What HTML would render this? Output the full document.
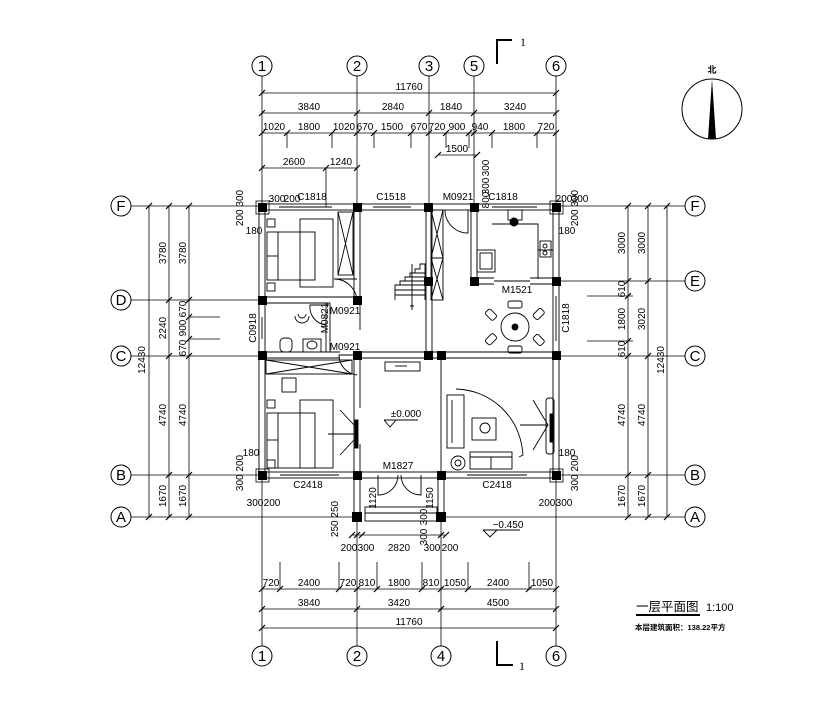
<!DOCTYPE html>
<html><head><meta charset="utf-8"><style>
html,body{margin:0;padding:0;background:#fff;width:837px;height:703px;overflow:hidden}
svg text{font-family:"Liberation Sans","Noto Sans CJK SC",sans-serif;fill:#000}
</style></head><body>
<svg width="837" height="703" viewBox="0 0 837 703" xmlns="http://www.w3.org/2000/svg">
<g stroke="#000" stroke-width="0.8" fill="none">
<line x1="262" y1="76" x2="262" y2="207"/><line x1="357" y1="76" x2="357" y2="207"/><line x1="429" y1="76" x2="429" y2="207"/><line x1="474" y1="76" x2="474" y2="207"/><line x1="556" y1="76" x2="556" y2="207"/>
<line x1="262" y1="475" x2="262" y2="646"/><line x1="357" y1="517" x2="357" y2="646"/><line x1="441" y1="517" x2="441" y2="646"/><line x1="556" y1="475" x2="556" y2="646"/>
<line x1="131" y1="206" x2="262" y2="206"/><line x1="131" y1="300" x2="262" y2="300"/><line x1="131" y1="356" x2="262" y2="356"/><line x1="131" y1="475" x2="262" y2="475"/><line x1="131" y1="517" x2="357" y2="517"/>
<line x1="556" y1="206" x2="685" y2="206"/><line x1="556" y1="281" x2="685" y2="281"/><line x1="556" y1="356" x2="685" y2="356"/><line x1="556" y1="475" x2="685" y2="475"/><line x1="441" y1="517" x2="685" y2="517"/>
<line x1="262" y1="93" x2="556" y2="93"/><line x1="262" y1="113" x2="556" y2="113"/><line x1="262" y1="133" x2="556" y2="133"/>
<line x1="287" y1="133" x2="287" y2="148"/><line x1="332" y1="133" x2="332" y2="148"/><line x1="374" y1="133" x2="374" y2="148"/><line x1="411" y1="133" x2="411" y2="148"/><line x1="446" y1="133" x2="446" y2="148"/><line x1="469" y1="133" x2="469" y2="148"/><line x1="492" y1="133" x2="492" y2="148"/><line x1="537" y1="133" x2="537" y2="148"/>
<line x1="262" y1="168" x2="357" y2="168"/><line x1="326" y1="168" x2="326" y2="207"/>
<line x1="438" y1="155" x2="477" y2="155"/>
<line x1="262" y1="589" x2="556" y2="589"/><line x1="262" y1="609" x2="556" y2="609"/><line x1="262" y1="628" x2="556" y2="628"/>
<line x1="280" y1="562" x2="280" y2="589"/><line x1="339" y1="562" x2="339" y2="589"/><line x1="377" y1="562" x2="377" y2="589"/><line x1="422" y1="562" x2="422" y2="589"/><line x1="468" y1="562" x2="468" y2="589"/><line x1="529" y1="562" x2="529" y2="589"/>
<line x1="352" y1="535" x2="446" y2="535"/>
<line x1="149" y1="206" x2="149" y2="517"/><line x1="169" y1="206" x2="169" y2="517"/><line x1="189" y1="206" x2="189" y2="517"/>
<line x1="189" y1="317" x2="220" y2="317"/><line x1="189" y1="339" x2="220" y2="339"/>
<line x1="628" y1="206" x2="628" y2="517"/><line x1="648" y1="206" x2="648" y2="517"/><line x1="667" y1="206" x2="667" y2="517"/>
<line x1="587" y1="296" x2="633" y2="296"/><line x1="587" y1="341" x2="633" y2="341"/>
</g>
<g stroke="#000" stroke-width="1.2">
<path d="M259 96l6-6M259 116l6-6M259 136l6-6M354 116l6-6M354 136l6-6M426 116l6-6M426 136l6-6M471 116l6-6M471 136l6-6M553 96l6-6M553 116l6-6M553 136l6-6M284 136l6-6M329 136l6-6M371 136l6-6M408 136l6-6M443 136l6-6M466 136l6-6M489 136l6-6M534 136l6-6M259 171l6-6M323 171l6-6M354 171l6-6M435 158l6-6M474 158l6-6"/>
<path d="M259 592l6-6M277 592l6-6M336 592l6-6M354 592l6-6M374 592l6-6M419 592l6-6M438 592l6-6M465 592l6-6M526 592l6-6M553 592l6-6M259 612l6-6M354 612l6-6M438 612l6-6M553 612l6-6M259 631l6-6M553 631l6-6M349 538l6-6M354 538l6-6M359 538l6-6M438 538l6-6M443 538l6-6"/>
<path d="M146 209l6-6M146 520l6-6M166 209l6-6M166 303l6-6M166 359l6-6M166 478l6-6M166 520l6-6M186 209l6-6M186 303l6-6M186 320l6-6M186 342l6-6M186 359l6-6M186 478l6-6M186 520l6-6"/>
<path d="M625 209l6-6M625 284l6-6M625 299l6-6M625 344l6-6M625 359l6-6M625 478l6-6M625 520l6-6M645 209l6-6M645 284l6-6M645 359l6-6M645 478l6-6M645 520l6-6M664 209l6-6M664 520l6-6"/>
</g>
<g stroke="#000" stroke-width="1" fill="#fff">
<circle cx="262" cy="66" r="10"/><circle cx="357" cy="66" r="10"/><circle cx="429" cy="66" r="10"/><circle cx="474" cy="66" r="10"/><circle cx="556" cy="66" r="10"/>
<circle cx="262" cy="656" r="10"/><circle cx="357" cy="656" r="10"/><circle cx="441" cy="656" r="10"/><circle cx="556" cy="656" r="10"/>
<circle cx="121" cy="206" r="10"/><circle cx="121" cy="300" r="10"/><circle cx="121" cy="356" r="10"/><circle cx="121" cy="475" r="10"/><circle cx="121" cy="517" r="10"/>
<circle cx="695" cy="206" r="10"/><circle cx="695" cy="281" r="10"/><circle cx="695" cy="356" r="10"/><circle cx="695" cy="475" r="10"/><circle cx="695" cy="517" r="10"/>
</g>
<g font-size="15" text-anchor="middle" style="font-family:'Liberation Serif',serif">
<text x="262" y="71">1</text><text x="357" y="71">2</text><text x="429" y="71">3</text><text x="474" y="71">5</text><text x="556" y="71">6</text>
<text x="262" y="661">1</text><text x="357" y="661">2</text><text x="441" y="661">4</text><text x="556" y="661">6</text>
<text x="121" y="211">F</text><text x="121" y="305">D</text><text x="121" y="361">C</text><text x="121" y="480">B</text><text x="121" y="522">A</text>
<text x="695" y="211">F</text><text x="695" y="286">E</text><text x="695" y="361">C</text><text x="695" y="480">B</text><text x="695" y="522">A</text>
</g>
<!-- walls -->
<g stroke="#000" stroke-width="0.9" fill="none">
<rect x="259" y="204" width="300" height="274"/>
<rect x="265" y="210" width="288" height="262"/>
</g>
<g font-size="10" text-anchor="middle">
<text x="409" y="90">11760</text>
<text x="309" y="110">3840</text><text x="393" y="110">2840</text><text x="451" y="110">1840</text><text x="515" y="110">3240</text>
<text x="274" y="130">1020</text><text x="309" y="130">1800</text><text x="344" y="130">1020</text><text x="365" y="130">670</text><text x="392" y="130">1500</text><text x="419" y="130">670</text><text x="437" y="130">720</text><text x="457" y="130">900</text><text x="480" y="130">940</text><text x="514" y="130">1800</text><text x="546" y="130">720</text>
<text x="294" y="165">2600</text><text x="341" y="165">1240</text><text x="457" y="152">1500</text>
<text x="271" y="586">720</text><text x="309" y="586">2400</text><text x="348" y="586">720</text><text x="367" y="586">810</text><text x="399" y="586">1800</text><text x="431" y="586">810</text><text x="455" y="586">1050</text><text x="498" y="586">2400</text><text x="542" y="586">1050</text>
<text x="309" y="606">3840</text><text x="399" y="606">3420</text><text x="498" y="606">4500</text>
<text x="409" y="625">11760</text>
<text x="349" y="551">200</text><text x="366" y="551">300</text><text x="399" y="551">2820</text><text x="432" y="551">300</text><text x="450" y="551">200</text>
<text x="277" y="202">300</text><text x="292" y="202">200</text><text x="564" y="202">200</text><text x="580" y="202">300</text>
<text x="254" y="234">180</text><text x="567" y="234">180</text><text x="251" y="456">180</text><text x="567" y="456">180</text>
<text x="255" y="506">300</text><text x="272" y="506">200</text><text x="547" y="506">200</text><text x="564" y="506">300</text>
<text x="308" y="488">C2418</text><text x="497" y="488">C2418</text>
<text x="398" y="469">M1827</text>
<text x="312" y="200">C1818</text><text x="391" y="200">C1518</text><text x="458" y="200">M0921</text><text x="503" y="200">C1818</text>
<text x="517" y="293">M1521</text>
<text x="345" y="314">M0921</text><text x="345" y="350">M0921</text>
<text x="406" y="417">±0.000</text><text x="508" y="528">−0.450</text>
</g>
<g font-size="10" text-anchor="middle">
<text transform="translate(145,360) rotate(-90)">12430</text>
<text transform="translate(166,253) rotate(-90)">3780</text><text transform="translate(166,328) rotate(-90)">2240</text><text transform="translate(166,415) rotate(-90)">4740</text><text transform="translate(166,496) rotate(-90)">1670</text>
<text transform="translate(186,253) rotate(-90)">3780</text><text transform="translate(186,309) rotate(-90)">670</text><text transform="translate(186,328) rotate(-90)">900</text><text transform="translate(186,348) rotate(-90)">670</text><text transform="translate(186,415) rotate(-90)">4740</text><text transform="translate(186,496) rotate(-90)">1670</text>
<text transform="translate(625,243) rotate(-90)">3000</text><text transform="translate(625,289) rotate(-90)">610</text><text transform="translate(625,319) rotate(-90)">1800</text><text transform="translate(625,349) rotate(-90)">610</text><text transform="translate(625,415) rotate(-90)">4740</text><text transform="translate(625,496) rotate(-90)">1670</text>
<text transform="translate(645,243) rotate(-90)">3000</text><text transform="translate(645,319) rotate(-90)">3020</text><text transform="translate(645,415) rotate(-90)">4740</text><text transform="translate(645,496) rotate(-90)">1670</text>
<text transform="translate(664,360) rotate(-90)">12430</text>
<text transform="translate(256,328) rotate(-90)">C0918</text><text transform="translate(569,318) rotate(-90)">C1818</text>
<text transform="translate(328,318) rotate(-90)">M0821</text>
<text transform="translate(243,208) rotate(-90)">200 300</text><text transform="translate(578,208) rotate(-90)">200 300</text>
<text transform="translate(243,473) rotate(-90)">300 200</text><text transform="translate(578,473) rotate(-90)">300 200</text>
<text transform="translate(376,498) rotate(-90)">1120</text><text transform="translate(433,498) rotate(-90)">1150</text>
<text transform="translate(338,519) rotate(-90)">250 250</text>
<text transform="translate(427,517) rotate(-90)">300</text><text transform="translate(427,537) rotate(-90)">300</text>
<text transform="translate(489,168) rotate(-90)">300</text><text transform="translate(489,186) rotate(-90)">300</text><text transform="translate(489,200) rotate(-90)">800</text>
</g>
<g stroke="#000" stroke-width="0.9" fill="none">
<line x1="279" y1="207" x2="332" y2="207"/><line x1="373" y1="207" x2="411" y2="207"/><line x1="492" y1="207" x2="537" y2="207"/>
<line x1="280" y1="475" x2="339" y2="475"/><line x1="467" y1="475" x2="527" y2="475"/>
<line x1="262" y1="317" x2="262" y2="339"/><line x1="556" y1="296" x2="556" y2="341"/>
<path d="M354 210V298M360 210V330M354 358V472M360 358V408M360 444V472"/>
<path d="M426 210V352M432 210V352"/>
<path d="M471 210V278M477 210V278M471 210H477"/>
<path d="M265 297H354M265 303H330M265 352H340M265 358H340M360 352H556M360 358H556"/>
<path d="M477 278H494M477 284H494M530 278H553M530 284H553M494 281H530"/>
<path d="M441 358V472"/>
<path d="M326 303V352M330 303V352"/>
<path d="M354 478V514M360 478V514M438 478V514M444 478V514"/>
<rect x="365" y="507" width="72" height="6"/><rect x="365" y="513" width="72" height="8"/>
<path d="M378 475V495A20 20 0 0 0 398 475M421 475V495A20 20 0 0 1 401 475"/>
<path d="M468 210V233A23 23 0 0 1 445 210"/>
<path d="M357 279H334A23 23 0 0 1 357 303"/>
<path d="M357 355H339A20 20 0 0 0 357 375"/>
<path d="M329 305H310A18 18 0 0 0 326 325"/>
<rect x="338" y="212" width="15" height="63"/><path d="M338 212L353 275M353 212L338 275"/>
<rect x="431" y="210" width="12" height="48"/><path d="M431 210L443 258M443 210L431 258"/>
<rect x="431" y="258" width="12" height="42"/><path d="M431 258L443 300M443 258L431 300"/>
<rect x="266" y="360" width="86" height="14"/><path d="M266 360L352 374M352 360L266 374"/>
<rect x="300" y="219" width="33" height="68"/>
<rect x="267" y="232" width="48" height="48" fill="#fff"/><line x1="278" y1="232" x2="278" y2="280"/><line x1="267" y1="256" x2="278" y2="256"/><line x1="300" y1="232" x2="300" y2="280"/>
<rect x="267" y="219" width="8" height="8"/><rect x="267" y="283" width="8" height="8"/>
<rect x="300" y="400" width="33" height="68"/>
<rect x="267" y="413" width="48" height="55" fill="#fff"/><line x1="278" y1="413" x2="278" y2="468"/><line x1="267" y1="440" x2="278" y2="440"/><line x1="300" y1="413" x2="300" y2="468"/>
<rect x="267" y="400" width="8" height="8"/><rect x="267" y="460" width="8" height="8"/>
<rect x="282" y="378" width="14" height="14"/>
<path d="M340 410L354 425M340 455L354 440M328 434H354"/>
<rect x="355" y="420" width="3" height="28" fill="#000"/>
<rect x="280" y="338" width="12" height="14" rx="4"/><rect x="303" y="339" width="18" height="13"/><ellipse cx="312" cy="345" rx="5" ry="4"/>
<path d="M298 314a4 4 0 0 0 8 0M295 316a7 7 0 0 0 14 0"/>
<path d="M395 300V288L395 285H400V281H405V277H410V273H415V269H420V264H425V300M395 290H425M395 295H425M395 285H425M400 281H425M405 277H425M410 273H425"/><path d="M412 264V310M410 306H414"/>
<rect x="385" y="362" width="35" height="9"/><path d="M395 366h12"/>
<path d="M492 224H538V279M538 250H553"/><rect x="477" y="250" width="18" height="22"/><rect x="480" y="253" width="12" height="16"/>
<rect x="508" y="210" width="14" height="10"/><circle cx="514" cy="222" r="4" fill="#000"/>
<rect x="540" y="241" width="11" height="16"/><circle cx="545" cy="246" r="2"/><circle cx="545" cy="253" r="2"/>
<circle cx="515" cy="327" r="14"/><circle cx="515" cy="327" r="3" fill="#000"/>
<rect x="508" y="301" width="14" height="7" rx="2"/><rect x="508" y="346" width="14" height="7" rx="2"/>
<rect x="486" y="311" width="11" height="7" rx="2" transform="rotate(45 491 314)"/><rect x="533" y="311" width="11" height="7" rx="2" transform="rotate(-45 538 314)"/>
<rect x="486" y="336" width="11" height="7" rx="2" transform="rotate(-45 491 340)"/><rect x="533" y="336" width="11" height="7" rx="2" transform="rotate(45 538 340)"/>
<path d="M456 389C490 390 520 415 523 455L519 457"/>
<path d="M520 425H548M533 400L548 425M533 450L548 425"/><rect x="546" y="398" width="8" height="56" rx="3"/><rect x="550" y="414" width="3" height="28" fill="#000"/>
<rect x="447" y="395" width="17" height="53"/><line x1="452" y1="400" x2="452" y2="443"/>
<rect x="472" y="418" width="24" height="22"/><circle cx="485" cy="428" r="5"/>
<rect x="470" y="452" width="42" height="17"/><line x1="470" y1="457" x2="512" y2="457"/><line x1="491" y1="457" x2="491" y2="469"/>
<circle cx="458" cy="463" r="7"/><circle cx="458" cy="463" r="3"/>
<path d="M384 420H418M384 420L390 427L396 420"/><path d="M483 530H520M483 530L490 537L497 530"/>
</g>
<g fill="#000">
<rect x="258" y="203" width="9" height="9"/><rect x="353" y="203" width="9" height="9"/><rect x="424" y="203" width="9" height="9"/><rect x="470" y="203" width="9" height="9"/><rect x="552" y="203" width="9" height="9"/>
<rect x="424" y="277" width="9" height="9"/><rect x="470" y="277" width="9" height="9"/><rect x="552" y="277" width="9" height="9"/>
<rect x="258" y="296" width="9" height="9"/><rect x="353" y="296" width="9" height="9"/>
<rect x="258" y="351" width="9" height="9"/><rect x="353" y="351" width="9" height="9"/><rect x="424" y="351" width="9" height="9"/><rect x="437" y="351" width="9" height="9"/><rect x="552" y="351" width="9" height="9"/>
<rect x="258" y="471" width="9" height="9"/><rect x="353" y="471" width="9" height="9"/><rect x="437" y="471" width="9" height="9"/><rect x="552" y="471" width="9" height="9"/>
<rect x="352" y="512" width="10" height="10"/><rect x="436" y="512" width="10" height="10"/>
</g>
<g fill="none" stroke="#000" stroke-width="0.8">
<rect x="256" y="201" width="13" height="13"/><rect x="550" y="201" width="13" height="13"/><rect x="256" y="469" width="13" height="13"/><rect x="550" y="469" width="13" height="13"/>
</g>
<path d="M497 64V40H512M497 641V665H513" stroke="#000" stroke-width="2" fill="none"/>
<text x="520" y="46" font-size="12" style="font-family:'Liberation Serif',serif">1</text>
<text x="519" y="670" font-size="12" style="font-family:'Liberation Serif',serif">1</text>
<circle cx="712" cy="109" r="30" fill="none" stroke="#000" stroke-width="1"/>
<path d="M712 79L708 139H716Z" fill="#000"/>
<text x="712" y="73" font-size="9" text-anchor="middle" font-weight="bold">北</text>
<text x="636" y="611" font-size="12.5">一层平面图</text>
<rect x="636" y="614" width="64" height="2" fill="#000"/>
<text x="706" y="611" font-size="11">1:100</text>
<text x="635" y="630" font-size="7.5" font-weight="bold">本层建筑面积：138.22平方</text>
</svg>
</body></html>
